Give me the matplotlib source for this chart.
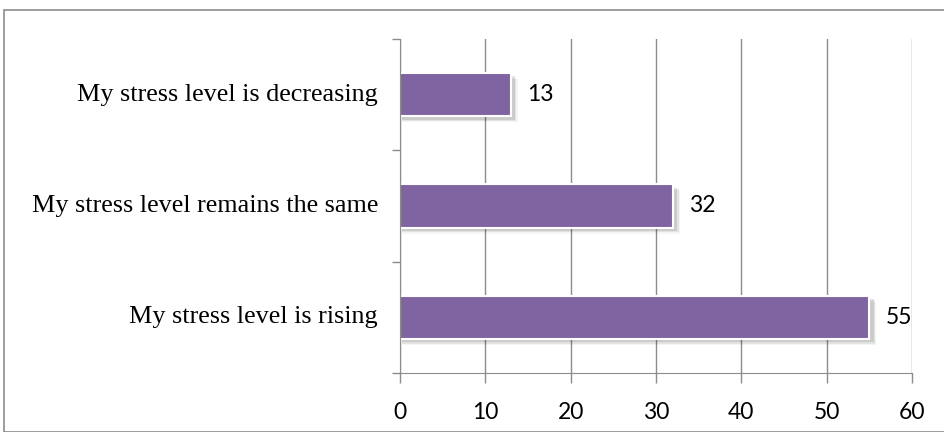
import matplotlib.pyplot as plt
from matplotlib.patches import Rectangle

categories = ["My stress level is rising",
              "My stress level remains the same",
              "My stress level is decreasing"]
values = [55, 32, 13]

fig = plt.figure(figsize=(9.45, 4.32), dpi=100)
ax = fig.add_axes([400 / 945, 1 - 373 / 432, 512 / 945, 334 / 432])

# outer chart frame
fig.patches.append(Rectangle((4 / 945, 0), 1.0, 1 - 10 / 432, transform=fig.transFigure,
                             fill=False, edgecolor="#8c8c8c", linewidth=1.2))

pos = list(range(len(categories)))
h = 0.39
# soft shadow under each bar
for p, v in zip(pos, values):
    for i, a in enumerate([0.10, 0.07, 0.04]):
        ax.barh(p - 0.03 - i * 0.012, v + 0.3 + i * 0.15, height=h, left=0.2,
                color="black", alpha=a, linewidth=0, zorder=2)
bars = ax.barh(pos, values, height=h, color="#8064A2", edgecolor="white",
               linewidth=1.5, zorder=3)

for p, v in zip(pos, values):
    ax.text(v + 1.9, p, str(v), va="center", ha="left", fontsize=16.5,
            family="Lato", zorder=4)

ax.set_xlim(0, 60)
ax.set_ylim(-0.5, 2.5)
ax.set_xticks(range(0, 61, 10))
ax.set_yticks([-0.5, 0.5, 1.5, 2.5])
ax.set_yticklabels([])
ax.tick_params(axis="y", length=6, color="#8c8c8c", width=1)
ax.tick_params(axis="x", length=7, color="#8c8c8c", width=1, labelsize=16.5, pad=14)
for lab in ax.get_xticklabels():
    lab.set_family("Lato")

for p, c in zip(pos, categories):
    ax.text(-0.043, p, c, transform=ax.get_yaxis_transform(), ha="right", va="center",
            fontsize=18.8, family="Liberation Serif")

ax.grid(axis="x", color="#8c8c8c", linewidth=1, zorder=0)
ax.set_axisbelow(True)
for s in ["top", "right"]:
    ax.spines[s].set_visible(False)
for s in ["left", "bottom"]:
    ax.spines[s].set_color("#8c8c8c")
    ax.spines[s].set_zorder(5)

fig.savefig("out.png", dpi=100)
